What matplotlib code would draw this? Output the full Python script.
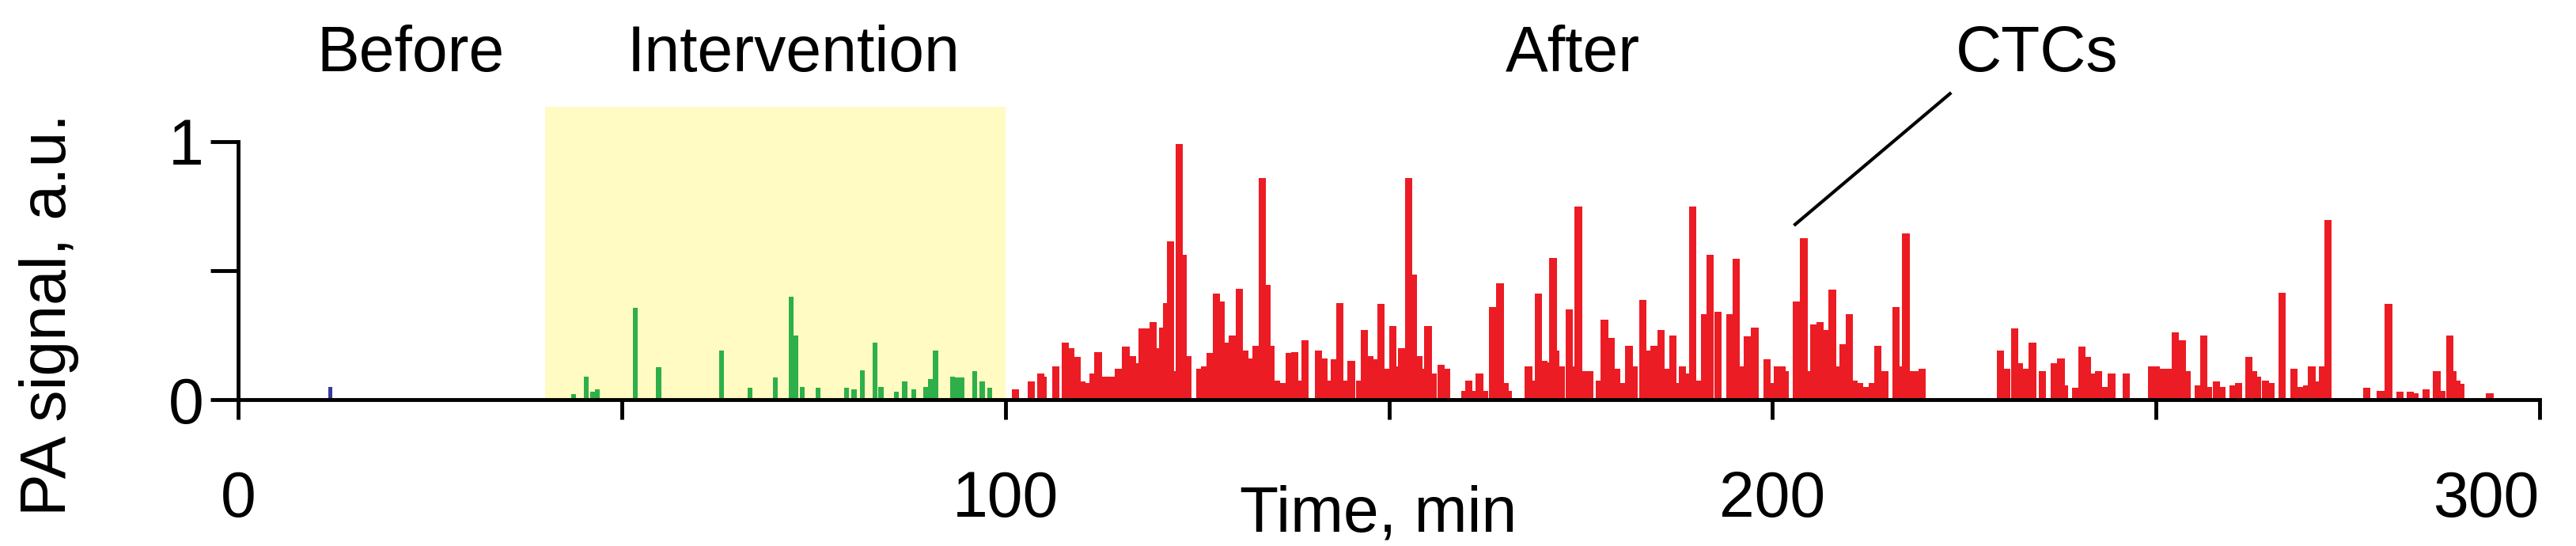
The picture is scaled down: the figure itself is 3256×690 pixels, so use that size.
import numpy as np
import matplotlib.pyplot as plt
from matplotlib.patches import Rectangle

plt.rcParams['font.family'] = ['Liberation Sans', 'DejaVu Sans']

## spike before the intervention (blue)
before_t = [12.0]
before_v = [0.05]

## spikes during the intervention (green), time in min
green_t = [43.7, 45.4, 46.2, 46.8, 51.8, 54.8, 63.0, 66.7, 70.0, 72.1, 72.7, 73.5,
           75.6, 79.3, 80.3, 81.4, 83.0, 83.8, 85.8, 86.9, 88.1, 89.6, 90.3, 90.9,
           93.1, 93.7, 94.3, 96.0, 97.0, 98.0]
green_v = [0.02, 0.09, 0.03, 0.04, 0.355, 0.125, 0.19, 0.045, 0.085, 0.40, 0.25, 0.05,
           0.045, 0.045, 0.04, 0.115, 0.22, 0.05, 0.03, 0.07, 0.04, 0.05, 0.08, 0.19,
           0.09, 0.085, 0.085, 0.11, 0.07, 0.045]

## spikes after the intervention (red)
red_t = [101.3, 103.4, 104.6, 104.9, 106.6, 107.8, 108.5, 109.4, 110.0, 110.6, 111.4, 112.1,
         112.9, 113.8, 114.7, 115.7, 116.6, 117.3, 117.8, 118.5, 119.3, 119.9, 120.5, 121.0,
         121.5, 122.1, 122.7, 123.2, 123.8, 125.4, 126.0, 126.7, 127.5, 128.1, 128.8, 129.6,
         130.5, 131.2, 131.9, 132.7, 133.5, 134.1, 134.6, 135.3, 136.2, 137.0, 137.7, 138.2,
         139.1, 140.8, 141.5, 142.2, 142.9, 143.6, 144.3, 145.1, 146.2, 146.8, 147.5, 148.4,
         149.0, 149.8, 150.5, 151.1, 151.7, 152.6, 153.2, 153.9, 154.6, 155.1, 155.8, 156.8,
         157.5, 159.9, 160.4, 161.1, 161.8, 162.5, 163.5, 164.5, 165.1, 165.6,
         168.2, 168.8, 169.5, 170.2, 170.7, 171.4, 171.8, 172.5, 173.5, 174.0, 174.7, 175.4,
         176.2, 177.4, 178.1, 179.0, 179.7, 180.4, 181.3, 182.0, 183.1, 183.8, 184.6, 185.5,
         186.2, 187.0, 187.7, 188.3, 188.9, 189.6, 190.3, 191.2, 191.9, 192.9, 194.5, 195.3,
         196.0, 196.7, 197.7, 199.3, 199.9, 200.6, 201.2, 201.7, 203.1, 204.1, 204.8, 205.4,
         206.2, 207.0, 207.8, 208.6, 209.2, 210.0, 210.6, 211.3, 212.2, 213.0, 213.7, 214.6,
         216.1, 216.8, 217.4, 218.2, 218.9, 219.5,
         229.7, 230.5, 231.6, 232.2, 233.1, 233.9, 235.2, 236.7, 237.6, 238.1, 239.5, 240.3,
         241.0, 241.7, 242.5, 243.2, 244.2, 246.1, 249.4, 250.0, 251.0, 251.7, 252.5, 253.4,
         254.0, 255.5, 256.2, 256.8, 257.9, 258.6, 260.1, 260.8, 262.1, 262.7, 263.2, 264.3,
         265.0, 266.4, 268.0, 268.9, 269.6, 270.3, 271.0, 271.7, 272.4,
         277.5, 279.2, 279.7, 280.3, 281.8, 283.1, 283.7, 285.2, 286.6, 287.3, 288.3, 288.7,
         289.2, 289.7, 293.5]
red_v = [0.04, 0.07, 0.10, 0.09, 0.13, 0.22, 0.20, 0.165, 0.07, 0.065, 0.10, 0.185,
         0.09, 0.09, 0.12, 0.205, 0.17, 0.14, 0.275, 0.275, 0.30, 0.20, 0.28, 0.375,
         0.615, 0.11, 0.99, 0.56, 0.17, 0.12, 0.13, 0.18, 0.41, 0.38, 0.22, 0.25,
         0.43, 0.19, 0.16, 0.21, 0.86, 0.445, 0.21, 0.075, 0.065, 0.18, 0.185, 0.075,
         0.23, 0.19, 0.16, 0.075, 0.155, 0.375, 0.075, 0.15, 0.075, 0.27, 0.17, 0.155,
         0.37, 0.12, 0.285, 0.13, 0.20, 0.86, 0.485, 0.17, 0.12, 0.285, 0.10, 0.135,
         0.12, 0.035, 0.075, 0.035, 0.10, 0.035, 0.36, 0.45, 0.065, 0.035,
         0.13, 0.075, 0.41, 0.15, 0.145, 0.55, 0.19, 0.13, 0.35, 0.13, 0.75, 0.11,
         0.11, 0.075, 0.31, 0.24, 0.12, 0.065, 0.21, 0.13, 0.385, 0.19, 0.21, 0.27,
         0.12, 0.25, 0.065, 0.13, 0.10, 0.75, 0.075, 0.33, 0.56, 0.34, 0.33, 0.545,
         0.13, 0.245, 0.28, 0.155, 0.065, 0.13, 0.13, 0.11, 0.38, 0.625, 0.11, 0.29,
         0.30, 0.27, 0.425, 0.13, 0.215, 0.33, 0.075, 0.065, 0.05, 0.065, 0.21, 0.11,
         0.36, 0.13, 0.645, 0.11, 0.11, 0.12,
         0.19, 0.12, 0.275, 0.14, 0.12, 0.22, 0.11, 0.14, 0.16, 0.055, 0.045, 0.205,
         0.165, 0.10, 0.11, 0.05, 0.10, 0.10, 0.13, 0.13, 0.12, 0.12, 0.26, 0.23,
         0.11, 0.055, 0.25, 0.05, 0.07, 0.05, 0.055, 0.065, 0.165, 0.11, 0.09, 0.075,
         0.065, 0.415, 0.12, 0.05, 0.055, 0.13, 0.07, 0.13, 0.695,
         0.045, 0.035, 0.035, 0.37, 0.03, 0.03, 0.025, 0.04, 0.11, 0.035, 0.25, 0.11,
         0.075, 0.06, 0.025]

## phases
phase_names = ['Before', 'Intervention', 'After']
phase_x = [22.5, 72.4, 174.0]
interv = (40, 100)

RED = '#EC1C24'
GREEN = '#2EAF4A'
BLUE = '#3A3AA0'
YELLOW = '#FFFBC2'
FS = 58

W, H = 3256, 690
fig = plt.figure(figsize=(W/100, H/100), dpi=100)
ytop = 1.45
ax = fig.add_axes([301/W, 1-505/H, 2909/W, 326*ytop/H])
ax.set_xlim(0, 300)
ax.set_ylim(0, ytop)

ax.add_patch(Rectangle((interv[0], 0), interv[1]-interv[0], 1.135, color=YELLOW, lw=0, zorder=0))
ax.bar(before_t, before_v, width=0.5, color=BLUE, lw=0)
ax.bar(green_t, green_v, width=0.65, color=GREEN, lw=0)
ax.bar(red_t, red_v, width=0.95, color=RED, lw=0)

# CTC pointer
ax.plot([202.8, 223.3], [0.675, 1.19], color='black', lw=3, solid_capstyle='butt')
for name, x in zip(phase_names, phase_x):
    ax.text(x, 1.337, name, ha='center', va='center', fontsize=FS)
ax.text(234.5, 1.337, 'CTCs', ha='center', va='center', fontsize=FS)

for s in ['top', 'right']:
    ax.spines[s].set_visible(False)
ax.spines['left'].set_bounds(0, 1)
ax.spines['bottom'].set_bounds(0, 300)
for s in ['left', 'bottom']:
    ax.spines[s].set_linewidth(3.5)
    ax.spines[s].set_zorder(5)
ax.set_xticks(np.arange(0, 301, 50))
ax.set_xticklabels(['0', '', '100', '', '200', '', '300'])
ax.set_yticks([0, 0.5, 1])
ax.set_yticklabels(['0', '', '1'])
ax.tick_params(axis='x', length=18, width=3.5, pad=46, labelsize=FS)
ax.tick_params(axis='y', length=25, width=3.5, pad=6, labelsize=FS)
# last label sits left of its tick so it stays inside the figure
ax.get_xticklabels()[-1].set_horizontalalignment('right')
ax.get_xticklabels()[-1].set_x(300)

fig.text(1742/W, 1-650/H, 'Time, min', ha='center', va='center', fontsize=FS)
fig.text(62/W, 1-398/H, 'PA signal, a.u.', ha='center', va='center', rotation=90, fontsize=FS)

fig.savefig('out.png', dpi=100)
